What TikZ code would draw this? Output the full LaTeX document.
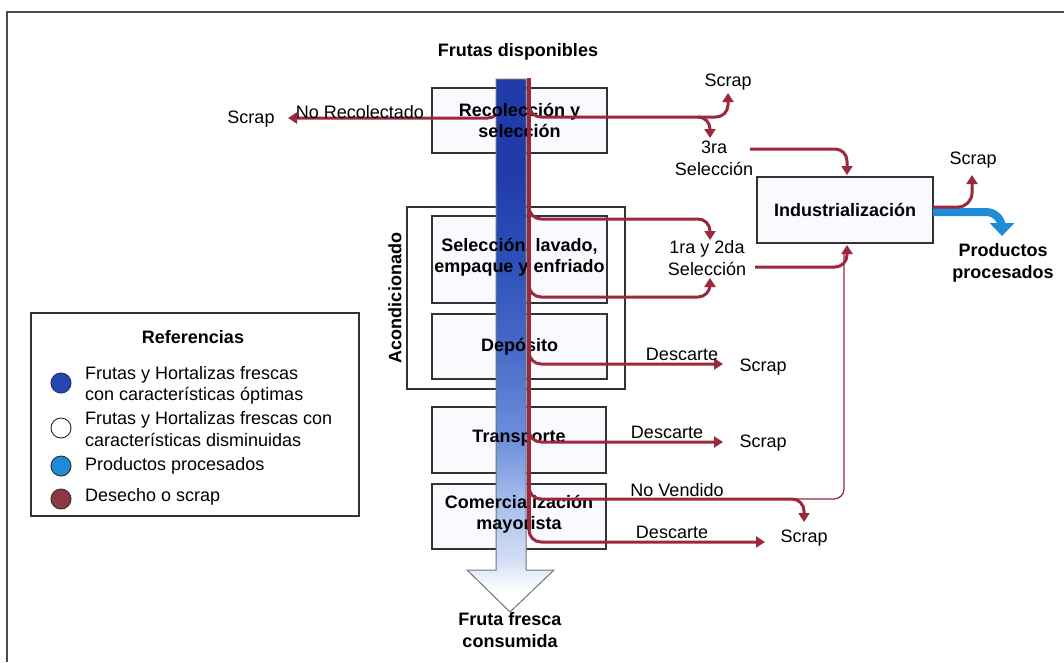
\documentclass[tikz,border=0pt]{standalone}
\usepackage{fontspec}
\setmainfont{Liberation Sans}
\usetikzlibrary{arrows.meta}
\definecolor{scrapred}{RGB}{155,40,60}
\definecolor{procblue}{RGB}{30,140,215}
\definecolor{optblue}{RGB}{40,70,175}
\definecolor{legred}{RGB}{140,55,65}
\definecolor{bA}{RGB}{32,60,170}
\definecolor{bB}{RGB}{45,80,185}
\definecolor{bC}{RGB}{70,105,200}
\definecolor{bD}{RGB}{110,145,220}
\definecolor{bE}{RGB}{160,185,235}
\definecolor{bF}{RGB}{210,222,245}
\definecolor{bW}{RGB}{255,255,255}
\definecolor{boxfill}{RGB}{248,250,254}
\pgfdeclareverticalshading{barshade}{100bp}{color(0bp)=(bW); color(25bp)=(bW); color(27bp)=(bW); color(30bp)=(bF); color(36bp)=(bE); color(41bp)=(bD); color(50bp)=(bC); color(58bp)=(bB); color(66bp)=(bA); color(100bp)=(bA)}
\tikzset{
  lbl/.style={font=\fontsize{18}{21.5}\selectfont, inner sep=0pt, align=center},
  blbl/.style={lbl, font=\fontsize{18}{21.5}\selectfont\bfseries},
  box/.style={draw=black!80, line width=1.2pt, fill=boxfill, inner sep=0pt},
  rline/.style={draw=scrapred, line width=3pt, rounded corners=12pt},
  rarr/.style={rline, -{Triangle[length=9pt,width=11pt]}},
  thinr/.style={draw=scrapred, line width=1.3pt, rounded corners=10pt},
  frame/.style={draw=black!70, line width=1.5pt},
  legdot/.style={circle, minimum size=20pt, inner sep=0pt, draw=black!80, line width=1pt}
}
\begin{document}
\begin{tikzpicture}[x=1pt,y=-1pt]
\useasboundingbox (0,0) rectangle (1064,662);
% frame
\coordinate (fbl) at (7,662); \coordinate (ftl) at (7,12); \coordinate (ftr) at (1064,12);
\draw[frame] (fbl) -- (ftl) -- (ftr);

% boxes (shapes)
\node[draw=black!80, line width=1.2pt, fill=white, minimum width=218pt, minimum height=182pt] (acond) at (516,298) {};
\node[box, minimum width=175pt, minimum height=65pt] (rec) at (519.5,120.5) {};
\node[box, minimum width=175pt, minimum height=87pt] (sel) at (519.5,259.5) {};
\node[box, minimum width=175pt, minimum height=65pt] (dep) at (519.5,346.5) {};
\node[box, minimum width=174pt, minimum height=66pt] (tra) at (519,440) {};
\node[box, minimum width=174pt, minimum height=65pt] (com) at (519,516.5) {};
\node[box, minimum width=176pt, minimum height=66pt, font=\fontsize{18}{21.5}\selectfont\bfseries] (ind) at (845,210) {Industrialización};
\node[blbl, rotate=90] (acl) at (395,298) {Acondicionado};

% left branch (behind bar)
\coordinate (lb0) at (500,95); \coordinate (lbt) at (288,118);
\draw[rarr] (lb0) |- (lbt);

% central bar
\path[shading=barshade, draw=black!55, line width=1pt] (496,79) -- (526,79) -- (526,570) -- (554,570) -- (510,612) -- (467,570) -- (496,570) -- cycle;

% box texts (over the bar)
\node[blbl] (rect) at (rec.center) {Recolección y\\selección};
\node[blbl] (selt) at ([yshift=2pt]sel.center) {Selección, lavado,\\empaque y enfriado};
\node[blbl] (dept) at (dep.center) {Depósito};
\node[blbl] (trat) at ([yshift=2pt]tra.center) {Transporte};
\node[blbl] (comt) at ([yshift=2pt]com.center) {Comercialización\\mayorista};

% main red line
\coordinate (mtop) at (529,78); \coordinate (mbot) at (529,530);
\draw[scrapred, line width=4pt] (mtop) -- (mbot);

% right branches
\coordinate (rb0) at (529,100); \coordinate (rb1) at (728,117); \coordinate (rbt) at (728,93);
\draw[rarr] (rb0) |- (rb1) -- (rbt);
\coordinate (tb0) at (700,117); \coordinate (tbt) at (710,138);
\draw[rarr] (tb0) -| (tbt);
\coordinate (t3) at (750,149); \coordinate (it) at (847,175);
\draw[rarr] (t3) -| (it);
\coordinate (s0) at (529,200); \coordinate (s1) at (710,219); \coordinate (s1t) at (710,240);
\draw[rarr] (s0) |- (s1) -- (s1t);
\coordinate (s2) at (529,280); \coordinate (s3) at (710,297); \coordinate (s3t) at (710,278);
\draw[rarr] (s2) |- (s3) -- (s3t);
\coordinate (t12) at (755,267); \coordinate (ib) at (847,245);
\draw[thinr] (790,499) -| (844,252);
\draw[rarr] (t12) -| (ib);
\coordinate (d0) at (529,340); \coordinate (dt) at (723,364);
\draw[rarr] (d0) |- (dt);
\coordinate (tr0) at (529,420); \coordinate (trt) at (723,442);
\draw[rarr] (tr0) |- (trt);
\coordinate (nv0) at (529,475); \coordinate (nv1) at (804,499); \coordinate (nvt) at (804,522);
\draw[rarr] (nv0) |- (nv1) -- (nvt);
\coordinate (c0) at (529,520); \coordinate (ct) at (765,542);
\draw[rarr] (c0) |- (ct);

% industrialization outputs
\coordinate (io1) at (933,212); \coordinate (pt) at (1002,236);
\draw[procblue, line width=8pt, rounded corners=16pt, -{Triangle[length=13pt,width=24pt]}] (io1) -| (pt);
\coordinate (io2) at (933,207); \coordinate (ist) at (972,175);
\draw[rarr, rounded corners=14pt] (io2) -| (ist);

% labels
\node[blbl] (fd) at (518,52) {Frutas disponibles};
\node[blbl] (ffc) at (510,630) {Fruta fresca\\consumida};
\node[lbl] (scL) at (251,119) {Scrap};
\node[lbl] (nrec) at (360,112) {No Recolectado};
\node[lbl] (sc1) at (728,82) {Scrap};
\node[lbl] (s3ra) at (714,158.5) {3ra\\Selección};
\node[lbl] (s12) at (707,258) {1ra y 2da\\Selección};
\node[lbl] (sci) at (973,160) {Scrap};
\node[blbl] (prod) at (1003,263) {Productos\\procesados};
\node[lbl] (des1) at (682,354) {Descarte};
\node[lbl] (sc2) at (763,367) {Scrap};
\node[lbl] (des2) at (667,432) {Descarte};
\node[lbl] (sc3) at (763,443) {Scrap};
\node[lbl] (nven) at (677,490) {No Vendido};
\node[lbl] (des3) at (672,532) {Descarte};
\node[lbl] (sc4) at (804,538) {Scrap};

% legend
\node[draw=black!80, line width=1.2pt, minimum width=328pt, minimum height=203pt] (leg) at (195,414.5) {};
\node[blbl] (legt) at (193,337) {Referencias};
\node[legdot, fill=optblue, draw=optblue!70!black] (d1) at (61,383) {};
\node[lbl, anchor=west, align=left] (l1) at (85,385.5) {Frutas y Hortalizas frescas\\con características óptimas};
\node[legdot, fill=white] (d2) at (61,428) {};
\node[lbl, anchor=west, align=left] (l2) at (85,429) {Frutas y Hortalizas frescas con\\características disminuidas};
\node[legdot, fill=procblue] (d3) at (61,466) {};
\node[lbl, anchor=west] (l3) at (85,466) {Productos procesados};
\node[legdot, fill=legred] (d4) at (61,499) {};
\node[lbl, anchor=west] (l4) at (85,497) {Desecho o scrap};
\end{tikzpicture}
\end{document}
